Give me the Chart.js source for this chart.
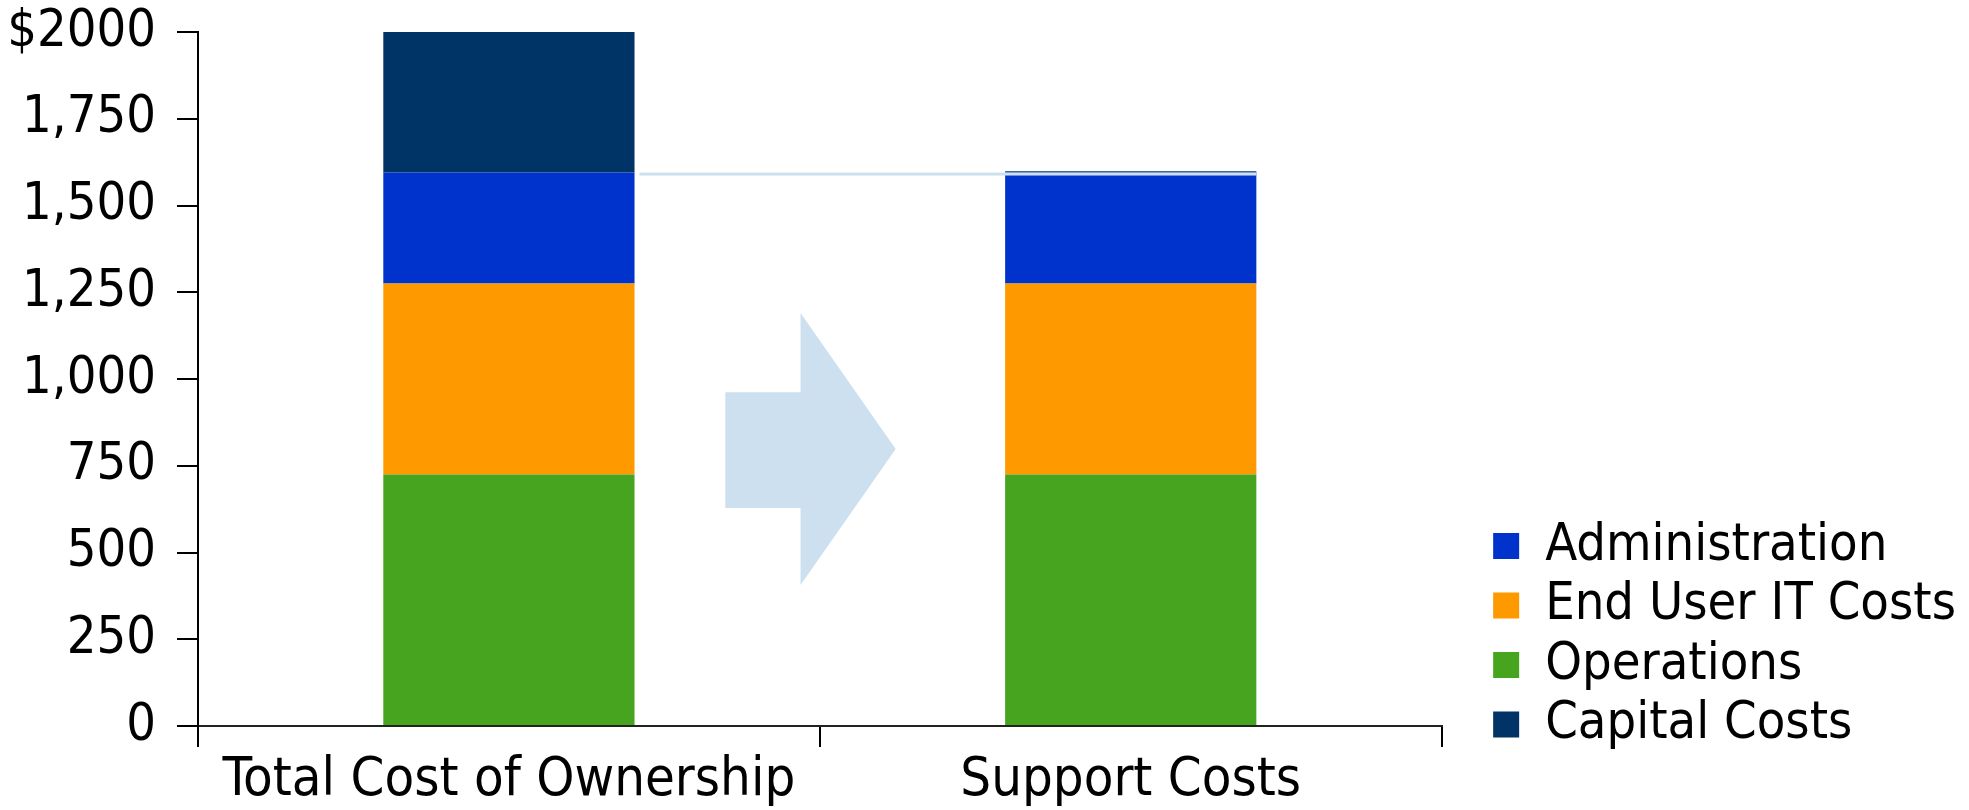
<!DOCTYPE html>
<html>
<head>
<meta charset="utf-8">
<script src="https://cdn.jsdelivr.net/npm/chart.js@4/dist/chart.umd.min.js"></script>
<style>
  body { margin: 0; background: #fff; }
  #wrap { width: 1969px; height: 810px; position: relative; }
</style>
</head>
<body>
<div id="wrap"><canvas id="costChart"></canvas></div>
<script>
// Chart data
const categories = ["Total Cost of Ownership", "Support Costs"];
const operations = [725, 725];
const endUserIT = [550, 550];
const administration = [320, 320];
const capitalCosts = [405, 4];
const yTicks = [0, 250, 500, 750, 1000, 1250, 1500, 1750, 2000];
const legendOrder = ["Administration", "End User IT Costs", "Operations", "Capital Costs"];

const FONT = "'DejaVu Sans Condensed', 'DejaVu Sans', sans-serif";
const LIGHT_BLUE = "#cce0ef";

// decorative arrow between the bars, in scale units (x = category index, y = value)
const arrowShape = {
  tail: 0.348, neck: 0.469, tip: 0.622,
  shaftTop: 962, shaftBottom: 628,
  headTop: 1190, headBottom: 406, tipY: 798
};

Chart.defaults.color = "#000";
Chart.defaults.font.family = FONT;
Chart.defaults.font.size = 52;

const decorations = {
  id: "decorations",
  beforeDatasetsDraw(chart) {
    const { ctx, scales } = chart;
    const x = (v) => scales.x.getPixelForDecimal((v + 0.5) / categories.length);
    const y = (v) => scales.y.getPixelForValue(v);
    const a = arrowShape;
    ctx.save();
    ctx.fillStyle = LIGHT_BLUE;
    ctx.beginPath();
    ctx.moveTo(x(a.tail), y(a.shaftTop));
    ctx.lineTo(x(a.neck), y(a.shaftTop));
    ctx.lineTo(x(a.neck), y(a.headTop));
    ctx.lineTo(x(a.tip), y(a.tipY));
    ctx.lineTo(x(a.neck), y(a.headBottom));
    ctx.lineTo(x(a.neck), y(a.shaftBottom));
    ctx.lineTo(x(a.tail), y(a.shaftBottom));
    ctx.closePath();
    ctx.fill();
    ctx.restore();
  },
  afterDatasetsDraw(chart) {
    // thin connector at the support-cost level of the first bar
    const { ctx, scales } = chart;
    const first = chart.getDatasetMeta(2).data[0];
    const second = chart.getDatasetMeta(2).data[1];
    const level = operations[0] + endUserIT[0] + administration[0];
    const yPix = scales.y.getPixelForValue(level);
    const x0 = first.x + first.width / 2 + 5;
    const x1 = second.x + second.width / 2;
    ctx.save();
    ctx.fillStyle = LIGHT_BLUE;
    ctx.fillRect(x0, yPix, x1 - x0, 3);
    ctx.restore();
  }
};

const barOpts = { borderWidth: 0, barPercentage: 0.404, categoryPercentage: 1 };

new Chart(document.getElementById("costChart"), {
  type: "bar",
  data: {
    labels: categories,
    datasets: [
      { label: "Operations", data: operations, backgroundColor: "#46a41e", ...barOpts },
      { label: "End User IT Costs", data: endUserIT, backgroundColor: "#ff9900", ...barOpts },
      { label: "Administration", data: administration, backgroundColor: "#0033cc", ...barOpts },
      { label: "Capital Costs", data: capitalCosts, backgroundColor: "#003366", ...barOpts },
    ],
  },
  options: {
    responsive: true,
    maintainAspectRatio: false,
    animation: false,
    layout: { padding: { top: 32, right: 3, bottom: 0, left: 0 } },
    scales: {
      x: {
        stacked: true,
        offset: true,
        grid: { offset: true, drawOnChartArea: false, tickLength: 21, color: "#000", lineWidth: 2 },
        border: { display: true, color: "#222", width: 2 },
        ticks: { padding: 2, maxRotation: 0, font: { size: 54 } },
        afterFit: (s) => { s.height = 84; },
      },
      y: {
        stacked: true,
        min: 0,
        max: 2000,
        afterBuildTicks: (s) => { s.ticks = yTicks.map((v) => ({ value: v })); },
        grid: { drawOnChartArea: false, tickLength: 21, color: "#000", lineWidth: 2 },
        border: { display: true, color: "#000", width: 2 },
        ticks: {
          padding: 21,
          font: { size: 52, lineHeight: 0.2 },
          callback: (v) => (v === 2000 ? "$2000" : v.toLocaleString("en-US")),
        },
        afterFit: (s) => { s.width = 198; },
      },
      // hidden axis that keeps a gap between plot and legend
      spacer: {
        position: "right",
        display: false,
        afterFit: (s) => { s.width = 44; },
      },
    },
    plugins: {
      legend: {
        position: "right",
        align: "start",
        title: { display: true, text: "", font: { size: 10, lineHeight: 1 }, padding: { top: 470.5, bottom: 0 } },
        labels: {
          boxWidth: 26,
          boxHeight: 26,
          padding: 7.5,
          font: { size: 52 },
          sort: (a, b) => legendOrder.indexOf(a.text) - legendOrder.indexOf(b.text),
        },
      },
      tooltip: { enabled: false },
    },
  },
  plugins: [decorations],
});
</script>
</body>
</html>
